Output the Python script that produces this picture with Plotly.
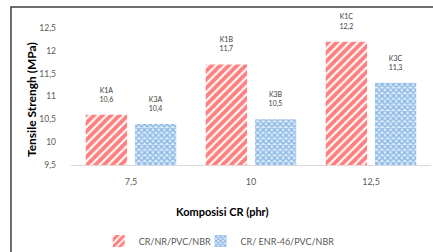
import plotly.graph_objects as go

categories = ["7,5", "10", "12,5"]
series1_name = "CR/NR/PVC/NBR"
series2_name = "CR/ ENR-46/PVC/NBR"
series1_values = [10.6, 11.7, 12.2]
series2_values = [10.4, 10.5, 11.3]
series1_codes = ["K1A", "K1B", "K1C"]
series2_codes = ["K3A", "K3B", "K3C"]
y_tickvals = [9.5, 10, 10.5, 11, 11.5, 12, 12.5]
y_ticktext = ["9,5", "10", "10,5", "11", "11,5", "12", "12,5"]

FONT = "Lato, 'Open Sans', sans-serif"
GRAY = "#595959"

def labels(codes, vals):
    return [f"{c}<br>{str(v).replace('.', ',')}<br>&nbsp;" for c, v in zip(codes, vals)]

fig = go.Figure()
fig.add_trace(go.Bar(
    x=categories, y=series1_values, name=series1_name, legend="legend",
    marker=dict(color="white", line=dict(width=0),
                pattern=dict(shape="/", fgcolor="#FF0000", bgcolor="white",
                             size=6, solidity=0.65, fillmode="overlay")),
    text=labels(series1_codes, series1_values), textposition="outside",
    textfont=dict(size=7, color="#404040", family=FONT), cliponaxis=False,
))
fig.add_trace(go.Bar(
    x=categories, y=series2_values, name=series2_name, legend="legend2",
    marker=dict(color="white", line=dict(width=0),
                pattern=dict(shape="x", fgcolor="#2F7FD0", bgcolor="#DCEAF8",
                             size=4, solidity=0.55, fillmode="overlay")),
    text=labels(series2_codes, series2_values), textposition="outside",
    textfont=dict(size=7, color="#404040", family=FONT), cliponaxis=False,
))

legend_common = dict(orientation="h", y=-0.555, yanchor="middle", xanchor="left",
                     font=dict(size=9, color=GRAY, family=FONT),
                     bgcolor="rgba(0,0,0,0)")

fig.update_layout(
    width=433, height=252,
    margin=dict(l=71, r=2, t=28, b=87, autoexpand=False),
    paper_bgcolor="white", plot_bgcolor="white",
    barmode="group", bargap=0.18, bargroupgap=0.16,
    font=dict(family=FONT, color=GRAY, size=9),
    showlegend=True,
    legend=dict(x=0.077, **legend_common),
    legend2=dict(x=0.36, **legend_common),
    xaxis=dict(type="category", showgrid=False, showline=True, linecolor="#D9D9D9",
               linewidth=1, ticks="", ticklabelstandoff=8,
               tickfont=dict(size=9, color=GRAY)),
    yaxis=dict(range=[9.5, 12.5], tickvals=y_tickvals, ticktext=y_ticktext,
               showgrid=False, zeroline=False, showline=False, ticks="",
               ticklabelstandoff=14, tickfont=dict(size=8.5, color=GRAY)),
    annotations=[
        dict(text="<b>Komposisi CR (phr)</b>", xref="paper", yref="paper",
             x=0.422, y=-0.343, showarrow=False, xanchor="center", yanchor="middle",
             font=dict(size=11, color="#000000", family=FONT)),
        dict(text="<b>Tensile Strengh (MPa)</b>", xref="paper", yref="paper",
             x=-0.111, y=0.474, showarrow=False, textangle=-90,
             xanchor="center", yanchor="middle",
             font=dict(size=12, color="#000000", family=FONT)),
    ],
    shapes=[
        dict(type="rect", xref="paper", yref="paper",
             x0=-0.1667, x1=1.2, y0=-0.8, y1=1.153,
             line=dict(color="#404040", width=1.5), fillcolor="rgba(0,0,0,0)",
             layer="below"),
    ],
)

fig.write_html("out.html", config={"displayModeBar": False},
               post_script="document.body.style.margin='0';")
